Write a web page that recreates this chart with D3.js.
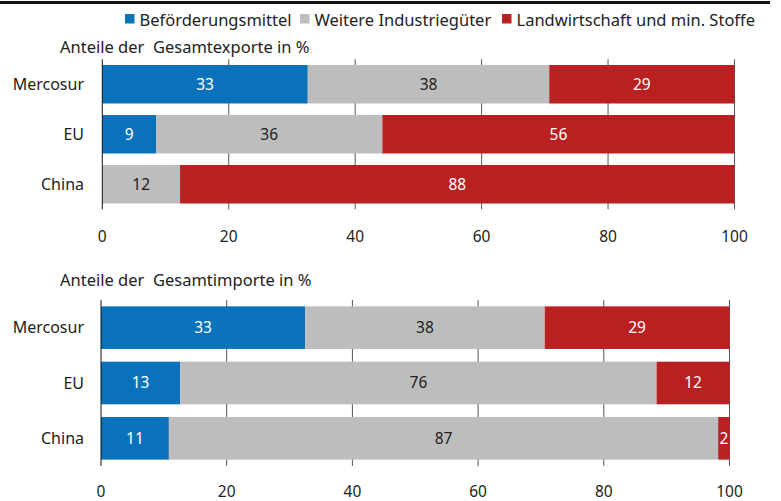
<!DOCTYPE html>
<html>
<head>
<meta charset="utf-8">
<script src="https://cdn.jsdelivr.net/npm/d3@7"></script>
<style>
  body { margin: 0; background: #fff; }
  svg { display: block; font-family: "Noto Sans", "Lato", sans-serif; }
  text { white-space: pre; }
</style>
</head>
<body>
<div id="chart"></div>
<script>
    "use strict";

    // categories and series
    var categories = ["Mercosur", "EU", "China"];
    var seriesNames = ["Beförderungsmittel", "Weitere Industriegüter", "Landwirtschaft und min. Stoffe"];
    var seriesColors = ["#0a72ba", "#bdbdbd", "#b82022"];
    var labelColors = ["#fff", "#222", "#fff"];

    // exports shares in %
    var exportTransport = [32.5, 8.5, 0];
    var exportIndustry = [38.2, 35.8, 12.3];
    var exportAgri = [29.3, 55.7, 87.7];

    // imports shares in %
    var importTransport = [32.5, 12.6, 10.8];
    var importIndustry = [38.1, 75.8, 87.4];
    var importAgri = [29.4, 11.6, 1.8];

    var xTicks = [0, 20, 40, 60, 80, 100];

    var width = 781, height = 501;
    var textSize = 16.5, catSize = 16, numSize = 15.5;

    var svg = d3.select("#chart").append("svg")
        .attr("width", width)
        .attr("height", height);

    // thick rule at the top
    svg.append("rect")
        .attr("x", 0).attr("y", 1)
        .attr("width", 770).attr("height", 3)
        .attr("fill", "#111");

    // legend
    var legendX = [125, 300, 502];
    var legend = svg.append("g").attr("class", "legend");
    seriesNames.forEach(function (name, i) {
        legend.append("rect")
            .attr("x", legendX[i]).attr("y", 14)
            .attr("width", 9.5).attr("height", 9.5)
            .attr("fill", seriesColors[i]);
        legend.append("text")
            .attr("x", legendX[i] + 14.5).attr("y", 25.5)
            .attr("font-size", textSize)
            .attr("fill", "#222")
            .text(name);
    });

    function drawPanel(opts) {
        var g = svg.append("g");

        var x = d3.scaleLinear().domain([0, 100]).range(opts.xRange);
        var y = d3.scaleBand().domain(categories).range(opts.yRange)
            .paddingInner(0.23).paddingOuter(0.115);

        g.append("text")
            .attr("x", 60).attr("y", opts.titleY)
            .attr("font-size", textSize)
            .attr("fill", "#222")
            .text(opts.title);

        // gridlines behind bars
        g.selectAll("line.grid")
            .data(xTicks.slice(1))
            .enter().append("line")
            .attr("class", "grid")
            .attr("x1", function (d) { return x(d); })
            .attr("x2", function (d) { return x(d); })
            .attr("y1", opts.yRange[0])
            .attr("y2", opts.yRange[1])
            .attr("stroke", "#555")
            .attr("stroke-width", 1);

        var rows = categories.map(function (c, i) {
            var o = { cat: c };
            opts.series.forEach(function (s, k) { o["s" + k] = s[i]; });
            return o;
        });
        var stacked = d3.stack().keys(["s0", "s1", "s2"])(rows);

        var layer = g.selectAll("g.layer")
            .data(stacked)
            .enter().append("g")
            .attr("class", "layer");

        layer.selectAll("rect")
            .data(function (d) { return d; })
            .enter().append("rect")
            .attr("x", function (d) { return x(d[0]); })
            .attr("y", function (d) { return y(d.data.cat); })
            .attr("width", function (d) { return x(d[1]) - x(d[0]); })
            .attr("height", y.bandwidth())
            .attr("fill", function () { return seriesColors[d3.select(this.parentNode).datum().index]; });

        layer.selectAll("text")
            .data(function (d) { return d.filter(function (p) { return p[1] - p[0] > 0.5; }); })
            .enter().append("text")
            .attr("x", function (d) { return (x(d[0]) + x(d[1])) / 2; })
            .attr("y", function (d) { return y(d.data.cat) + y.bandwidth() / 2; })
            .attr("dy", "0.35em")
            .attr("text-anchor", "middle")
            .attr("font-size", numSize)
            .attr("fill", function () { return labelColors[d3.select(this.parentNode).datum().index]; })
            .text(function (d) { return Math.round(d[1] - d[0]); });

        // category labels
        g.selectAll("text.cat")
            .data(categories)
            .enter().append("text")
            .attr("class", "cat")
            .attr("x", 84)
            .attr("y", function (d) { return y(d) + y.bandwidth() / 2; })
            .attr("dy", "0.35em")
            .attr("text-anchor", "end")
            .attr("font-size", catSize)
            .attr("fill", "#222")
            .text(function (d) { return d; });

        // zero line
        g.append("line")
            .attr("x1", x(0)).attr("x2", x(0))
            .attr("y1", opts.yRange[0]).attr("y2", opts.yRange[1])
            .attr("stroke", "#111");

        // tick labels
        g.selectAll("text.tick")
            .data(xTicks)
            .enter().append("text")
            .attr("class", "tick")
            .attr("x", function (d) { return x(d); })
            .attr("y", opts.tickY)
            .attr("dy", "0.35em")
            .attr("text-anchor", "middle")
            .attr("font-size", numSize)
            .attr("fill", "#222")
            .text(function (d) { return d; });
    }

    drawPanel({
        title: "Anteile der  Gesamtexporte in %",
        titleY: 53,
        xRange: [102.3, 734.5],
        yRange: [59.25, 209.25],
        tickY: 237,
        series: [exportTransport, exportIndustry, exportAgri]
    });

    drawPanel({
        title: "Anteile der  Gesamtimporte in %",
        titleY: 286,
        xRange: [101, 729.5],
        yRange: [300, 466],
        tickY: 492,
        series: [importTransport, importIndustry, importAgri]
    });
</script>
</body>
</html>
